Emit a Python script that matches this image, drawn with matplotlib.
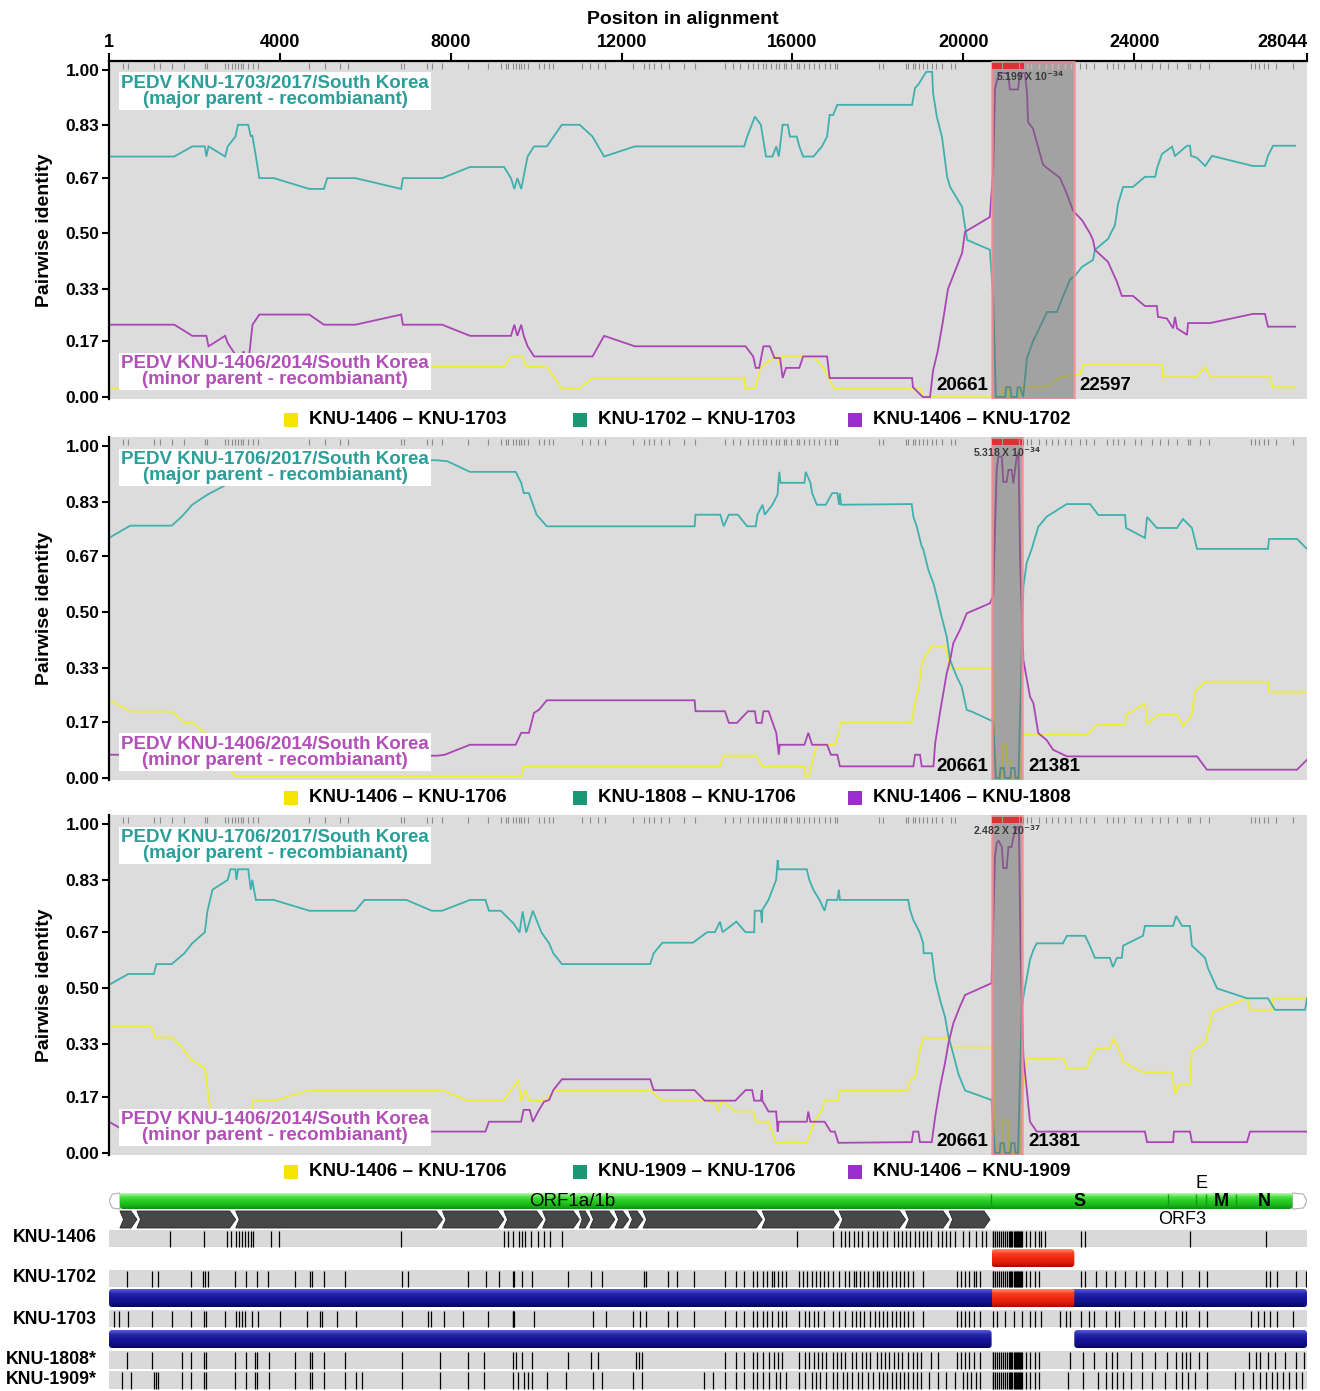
import numpy as np
import matplotlib
matplotlib.use('Agg')
import matplotlib.pyplot as plt
from matplotlib.patches import Rectangle, FancyBboxPatch, Polygon
from matplotlib.colors import LinearSegmentedColormap

plt.rcParams['font.family'] = ['Liberation Sans', 'DejaVu Sans']
plt.rcParams['font.weight'] = 'bold'
plt.rcParams['axes.labelweight'] = 'bold'

W, H = 1320, 1391
ALN_LEN = 28044
XTICKS = [1, 4000, 8000, 12000, 16000, 20000, 24000, 28044]
YTICKS = [0.0, 0.17, 0.33, 0.50, 0.67, 0.83, 1.00]
YLABELS = ['0.00', '0.17', '0.33', '0.50', '0.67', '0.83', '1.00']

# ---- pairwise identity traces (position, identity) ----
teal_1 = [(1, .735), (1530, .735), (1950, .766), (2245, .766), (2280, .735), (2330, .766), (2720, .735),
          (2780, .766), (2960, .796), (3020, .832), (3260, .832), (3320, .796), (3355, .80), (3440, .735),
          (3520, .669), (3860, .669), (4690, .636), (5030, .636), (5110, .669), (5770, .669), (6840, .636),
          (6880, .669), (7800, .669), (8450, .703), (9250, .703), (9410, .669), (9490, .636), (9560, .669),
          (9650, .636), (9800, .735), (9950, .766), (10250, .766), (10600, .832), (11020, .832), (11320, .796),
          (11590, .735), (12310, .766), (14870, .766), (14940, .796), (15120, .857), (15260, .832), (15380, .735),
          (15530, .735), (15620, .766), (15680, .735), (15770, .832), (15890, .832), (15940, .796), (16100, .796),
          (16160, .766), (16250, .735), (16490, .735), (16690, .766), (16810, .796), (16870, .862), (16950, .862),
          (17050, .893), (18800, .893), (18870, .945), (18940, .954), (19130, .994), (19270, .994), (19290, .93),
          (19380, .856), (19500, .795), (19620, .673), (19690, .642), (19970, .581), (20040, .52), (20090, .48),
          (20620, .45), (20700, .30), (20760, .0), (20980, .0), (21000, .03), (21100, .03), (21120, .0),
          (21250, .0), (21270, .03), (21330, .03), (21400, .0), (21490, .12), (21630, .17), (21960, .26),
          (22190, .26), (22310, .30), (22500, .36), (22610, .37), (22780, .398), (23035, .419), (23080, .45),
          (23385, .483), (23550, .526), (23620, .59), (23740, .642), (23970, .642), (24250, .673), (24490, .673),
          (24535, .70), (24650, .743), (24885, .765), (24955, .737), (25235, .768), (25305, .768), (25330, .737),
          (25470, .731), (25660, .706), (25820, .737), (26780, .706), (27060, .706), (27130, .737), (27250, .768),
          (27765, .768)]
purple_1 = [(1, .221), (1530, .221), (1950, .187), (2280, .187), (2330, .155), (2720, .187), (2780, .165),
            (2960, .129), (3050, .10), (3150, .14), (3260, .10), (3360, .221), (3520, .252), (4690, .252),
            (5030, .221), (5770, .221), (6840, .252), (6880, .221), (7800, .221), (8450, .187), (9410, .187),
            (9490, .221), (9560, .187), (9650, .221), (9710, .187), (9800, .155), (9950, .124), (11320, .124),
            (11590, .187), (12310, .155), (14900, .155), (15080, .124), (15140, .089), (15220, .089), (15320, .155),
            (15470, .155), (15580, .119), (15710, .119), (15770, .058), (15850, .089), (16160, .089), (16250, .124),
            (16810, .124), (16870, .058), (18800, .058), (18820, .03), (19050, .0), (19220, .0), (19290, .08),
            (19400, .14), (19520, .23), (19640, .33), (19850, .40), (19970, .44), (20040, .505), (20620, .55),
            (20700, .70), (20740, .94), (20790, .97), (20860, .99), (21045, .99), (21090, .94), (21280, .94),
            (21325, .99), (21440, .99), (21490, .93), (21515, .84), (21630, .82), (21865, .71), (21960, .70),
            (22260, .67), (22425, .62), (22565, .57), (22780, .54), (22965, .50), (23035, .48), (23080, .45),
            (23385, .413), (23595, .352), (23710, .309), (23970, .309), (24250, .278), (24530, .278), (24555, .245),
            (24765, .24), (24910, .21), (24955, .245), (25000, .21), (25235, .19), (25260, .226), (25775, .226),
            (26780, .254), (27060, .254), (27130, .215), (27765, .215)]
yellow_1 = [(1, .027), (3500, .027), (3560, .092), (9250, .092), (9410, .124), (9680, .124), (9770, .092),
            (10250, .092), (10600, .027), (11020, .027), (11320, .058), (14870, .058), (14900, .027), (15120, .027),
            (15260, .092), (15620, .124), (15710, .092), (15770, .124), (16490, .124), (16710, .092), (16980, .027),
            (18990, .027), (19060, .0), (20900, .0), (20920, .03), (21050, .03), (21070, .0), (21300, .0),
            (21330, .03), (21960, .03), (22260, .06), (22730, .07), (22800, .098), (24650, .098), (24660, .061),
            (25450, .061), (25660, .092), (25775, .061), (27180, .061), (27250, .03), (27765, .03)]

teal_2 = [(1, .723), (500, .76), (1470, .76), (1710, .788), (1950, .823), (2300, .853), (2700, .88), (3300, .92),
          (4200, .957), (7670, .957), (7920, .954), (8450, .922), (9520, .922), (9650, .889), (9710, .858),
          (9830, .858), (10010, .793), (10250, .758), (13710, .758), (13730, .793), (14310, .793), (14390, .758),
          (14510, .793), (14720, .793), (14940, .758), (15140, .758), (15180, .793), (15300, .823), (15350, .793),
          (15530, .823), (15650, .853), (15690, .922), (15720, .889), (16280, .889), (16310, .922), (16420, .889),
          (16460, .858), (16570, .823), (16780, .823), (16930, .858), (17050, .858), (17090, .823), (17110, .858),
          (17140, .823), (18790, .825), (18830, .787), (18910, .757), (19025, .697), (19060, .69), (19180, .627),
          (19300, .586), (19380, .546), (19490, .486), (19610, .426), (19690, .355), (19845, .305), (19960, .275),
          (20080, .205), (20195, .20), (20700, .17), (20760, .0), (20850, .0), (20870, .03), (20950, .03),
          (20970, .0), (21100, .0), (21120, .03), (21200, .03), (21220, .0), (21290, .0), (21405, .576),
          (21480, .647), (21600, .69), (21755, .757), (21950, .787), (22110, .80), (22420, .825), (22965, .825),
          (23160, .792), (23785, .792), (23810, .753), (24250, .723), (24300, .786), (24530, .753), (25000, .753),
          (25140, .78), (25350, .753), (25470, .69), (27130, .69), (27155, .72), (27810, .72), (28044, .69)]
purple_2 = [(1, .07), (7680, .067), (7860, .07), (8450, .10), (9520, .10), (9650, .136), (9830, .136), (9950, .196),
            (10070, .206), (10250, .234), (13710, .234), (13730, .201), (14420, .201), (14510, .166), (14700, .166),
            (14960, .201), (15120, .201), (15160, .166), (15280, .166), (15320, .201), (15440, .201), (15620, .136),
            (15680, .07), (15700, .10), (16280, .10), (16370, .136), (16460, .10), (16810, .10), (16900, .07),
            (17050, .07), (17110, .035), (18830, .035), (18870, .07), (18985, .07), (19025, .035), (19300, .035),
            (19340, .104), (19450, .195), (19610, .315), (19690, .355), (19765, .406), (19920, .446), (20080, .496),
            (20620, .526), (20700, .55), (20740, .75), (20780, .928), (20820, .968), (20900, .968), (20935, .892),
            (21015, .892), (21055, .928), (21130, .928), (21170, .887), (21210, .928), (21250, .968), (21290, .98),
            (21330, .647), (21405, .355), (21560, .245), (21640, .225), (21755, .135), (21950, .114), (22100, .085),
            (22425, .065), (25470, .065), (25700, .025), (27810, .025), (28044, .055)]
yellow_2 = [(1, .236), (500, .20), (1470, .20), (1770, .168), (1950, .168), (2300, .13), (2700, .05), (2960, .005),
            (9650, .005), (9710, .035), (14300, .035), (14390, .067), (15140, .067), (15300, .035), (16275, .035),
            (16300, .005), (16395, .005), (16455, .045), (16575, .10), (16990, .10), (17085, .136), (17135, .166),
            (18790, .166), (18830, .20), (18985, .295), (19025, .345), (19100, .365), (19260, .398), (19570, .398),
            (19690, .33), (20700, .33), (20760, .0), (20900, .0), (20920, .10), (20990, .10), (21010, .05),
            (21100, .05), (21130, .0), (21330, .0), (21366, .085), (21405, .13), (22890, .13), (23125, .160),
            (23785, .160), (23810, .19), (24250, .225), (24300, .163), (24555, .19), (25000, .19), (25140, .157),
            (25350, .19), (25420, .26), (25660, .29), (27130, .29), (27155, .26), (28044, .26)]

teal_3 = [(1, .511), (454, .544), (1051, .544), (1110, .574), (1469, .574), (1767, .607), (1946, .637), (2245, .671),
          (2304, .734), (2424, .80), (2782, .83), (2842, .862), (2961, .862), (2985, .83), (3021, .862), (3260, .862),
          (3319, .80), (3355, .83), (3439, .769), (3857, .769), (4692, .736), (5767, .736), (5982, .769), (6961, .769),
          (7558, .736), (7797, .736), (8454, .769), (8812, .769), (8895, .736), (9170, .736), (9468, .698),
          (9612, .67), (9683, .734), (9767, .67), (9922, .736), (10125, .67), (10304, .637), (10400, .607),
          (10603, .574), (12668, .574), (12752, .607), (12955, .639), (13669, .639), (14006, .671), (14185, .671),
          (14304, .703), (14364, .671), (14686, .703), (14901, .671), (15104, .671), (15116, .736), (15259, .736),
          (15283, .70), (15295, .739), (15438, .769), (15618, .83), (15653, .89), (15677, .862), (16334, .862),
          (16394, .83), (16489, .80), (16632, .769), (16752, .736), (16812, .769), (17050, .769), (17086, .80),
          (17110, .769), (18710, .769), (18750, .739), (18830, .708), (18985, .668), (19060, .637), (19070, .607),
          (19260, .607), (19340, .526), (19455, .465), (19570, .414), (19650, .354), (19765, .30), (19885, .24),
          (20040, .19), (20660, .161), (20740, .0), (20850, .0), (20870, .03), (20950, .03), (20970, .0),
          (21100, .0), (21120, .03), (21200, .03), (21220, .0), (21280, .0), (21366, .435), (21405, .475),
          (21560, .587), (21640, .617), (21717, .637), (22330, .637), (22425, .66), (22850, .66), (22960, .63),
          (23080, .593), (23430, .593), (23500, .565), (23595, .593), (23710, .593), (23740, .63), (24205, .66),
          (24250, .69), (24910, .69), (24980, .72), (25120, .69), (25305, .69), (25350, .63), (25657, .593),
          (25730, .56), (25940, .50), (26640, .47), (27130, .47), (27296, .435), (28000, .435), (28044, .47)]
purple_3 = [(1, .095), (400, .065), (8812, .065), (8895, .095), (9647, .095), (9707, .131), (9850, .131), (9922, .095),
            (10066, .131), (10185, .156), (10304, .161), (10400, .191), (10603, .224), (12668, .224), (12752, .191),
            (13707, .191), (13946, .159), (14662, .159), (14901, .191), (15056, .191), (15104, .159), (15259, .159),
            (15283, .191), (15295, .159), (15438, .126), (15618, .126), (15653, .065), (15677, .095), (16334, .095),
            (16370, .126), (16418, .095), (16752, .095), (16895, .065), (16991, .065), (17074, .031), (18790, .033),
            (18830, .065), (18947, .065), (18985, .033), (19260, .033), (19340, .11), (19455, .20), (19570, .273),
            (19650, .333), (19765, .394), (19920, .445), (20040, .48), (20660, .516), (20700, .70), (20740, .90),
            (20780, .94), (20820, .95), (20900, .93), (20935, .866), (21015, .866), (21055, .93), (21130, .93),
            (21170, .96), (21250, .99), (21300, .99), (21340, .60), (21405, .293), (21560, .095), (21717, .065),
            (24250, .065), (24300, .033), (24910, .033), (24930, .065), (25305, .065), (25350, .033), (26640, .033),
            (26710, .065), (28044, .065)]
yellow_3 = [(1, .384), (991, .384), (1087, .351), (1469, .351), (1707, .323), (1887, .288), (2245, .257),
            (2364, .141), (2500, .10), (3300, .10), (3379, .161), (3857, .159), (4692, .191), (7797, .191),
            (8394, .159), (9230, .159), (9409, .191), (9588, .222), (9647, .159), (9743, .191), (9850, .159),
            (10245, .159), (10424, .191), (12668, .191), (12955, .159), (13946, .159), (14185, .151), (14268, .126),
            (14340, .159), (14424, .151), (14662, .126), (15080, .126), (15140, .095), (15438, .095), (15618, .031),
            (16334, .031), (16513, .095), (16692, .131), (16752, .159), (17050, .159), (17110, .191), (18710, .191),
            (18750, .222), (18870, .23), (18950, .283), (18985, .313), (19063, .35), (19610, .35), (19690, .321),
            (20700, .32), (20760, .0), (20900, .0), (20920, .10), (21050, .10), (21070, .0), (21330, .0),
            (21400, .2), (21483, .288), (22341, .288), (22420, .257), (22888, .257), (22965, .288), (23122, .318),
            (23433, .318), (23511, .349), (23628, .318), (23740, .277), (24205, .245), (24885, .245), (24955, .18),
            (25070, .21), (25305, .21), (25350, .31), (25660, .335), (25730, .37), (25845, .43), (26640, .47),
            (26710, .435), (27225, .435), (27250, .47), (28044, .47)]

# recombination breakpoints and p-values
breaks = [(20661, 22597), (20661, 21381), (20661, 21381)]
pvalues = ['5.199', '5.318', '2.482']
pexps = ['-34', '-34', '-37']
major_labels = ['PEDV KNU-1703/2017/South Korea', 'PEDV KNU-1706/2017/South Korea', 'PEDV KNU-1706/2017/South Korea']
minor_label = 'PEDV KNU-1406/2014/South Korea'
legend_names = [['KNU-1406 \u2013 KNU-1703', 'KNU-1702 \u2013 KNU-1703', 'KNU-1406 \u2013 KNU-1702'],
                ['KNU-1406 \u2013 KNU-1706', 'KNU-1808 \u2013 KNU-1706', 'KNU-1406 \u2013 KNU-1808'],
                ['KNU-1406 \u2013 KNU-1706', 'KNU-1909 \u2013 KNU-1706', 'KNU-1406 \u2013 KNU-1909']]

# informative sites (top strip)
info_sites = [334, 454, 1051, 1206, 1469, 1767, 2245, 2304, 2722, 2782, 2878, 2961, 3021, 3081, 3140, 3260, 3379,
              3498, 4692, 5051, 5409, 5588, 6842, 6901, 7439, 7558, 7797, 8394, 8871, 9170, 9290, 9349, 9468, 9528,
              9588, 9647, 9707, 9803, 10066, 10185, 10304, 10400, 11080, 11259, 11438, 11617, 12274, 12513, 12633,
              12752, 12931, 13110, 13469, 13707, 14424, 14603, 14782, 14961, 15080, 15200, 15319, 15379, 15498,
              15618, 15677, 15797, 15857, 15976, 16095, 16155, 16274, 16394, 16513, 16632, 16752, 16871, 16991,
              17050, 18020, 18119, 18663, 18713, 18812, 18861, 18960, 19059, 19158, 19257, 19356, 19505, 19703,
              19802, 20693, 20740, 20792, 20840, 20891, 20940, 20990, 21040, 21089, 21140, 21188, 21240, 21287,
              21340, 21386, 21485, 21584, 21782, 21930, 22079, 22227, 22376, 22524, 22722, 22871, 23069, 23366,
              23514, 23613, 23762, 24009, 24158, 24405, 24603, 24801, 24999, 25247, 25296, 25544, 25742, 26732,
              26831, 26930, 27029, 27128, 27326, 27722]

# ---- genome map ----
gene_names = ['ORF1a/1b', 'S', 'ORF3', 'E', 'M', 'N']
gene_start = [257, 20638, 24790, 25446, 25685, 26377]
gene_end = [20638, 24790, 25446, 25685, 26377, 27702]
nsp_start = [257, 655, 2967, 7806, 9246, 10152, 11010, 11259, 11844, 12168, 12504, 15291, 17094, 18648, 19665]
nsp_end = [655, 2966, 7805, 9245, 10151, 11009, 11258, 11843, 12167, 12503, 15290, 17093, 18647, 19664, 20624]

hh_block = [20683, 20700, 20732, 20781, 20830, 20880, 20920, 20978, 21030, 21077, 21100, 21126, 21150, 21176,
            21200, 21225, 21250, 21274, 21300, 21323, 21350, 21372]
sites_1406 = [1438, 2227, 2769, 2847, 2966, 3035, 3113, 3192, 3261, 3330, 3380, 3803, 3980, 6828, 9242, 9350,
              9469, 9587, 9666, 9745, 9883, 10040, 10178, 10326, 10601, 16101, 16939, 17136, 17234, 17333, 17431,
              17530, 17628, 17776, 17875, 17973, 18121, 18220, 18367, 18466, 18565, 18663, 18762, 18860, 18959,
              19057, 19156, 19254, 19402, 19501, 19599, 19698, 19796, 19993, 20141, 20289, 20437, 20535] + hh_block + \
             [21471, 21569, 21668, 21767, 21816, 21914, 22752, 22851, 25294, 27087]
sites_1702 = [424, 1015, 1142, 1931, 2197, 2246, 2325, 2946, 3212, 3458, 3734, 4345, 4710, 4759, 5035, 5527, 6858,
              7005, 8405, 8828, 9124, 9449, 9488, 9666, 9912, 10750, 11291, 11538, 12523, 12572, 13096, 13293, 13687,
              14426, 14673, 14870, 15067, 15165, 15313, 15412, 15510, 15559, 15658, 15756, 15855, 16150, 16249,
              16348, 16446, 16545, 16643, 16742, 16840, 16939, 17086, 17234, 17333, 17431, 17481, 17579, 17678,
              17776, 17875, 17973, 18023, 18121, 18220, 18318, 18417, 18515, 18614, 18712, 18811, 19057, 19845,
              19944, 20042, 20141, 20240, 20289, 20387] + hh_block + \
             [21471, 21569, 21668, 21767, 22752, 22851, 23097, 23343, 23540, 23786, 24033, 24230, 24476, 24772,
              25117, 25511, 25708, 27087, 27186, 27333, 27777, 28023]
sites_1703 = [108, 236, 453, 1015, 1468, 1931, 2227, 2276, 2719, 2966, 3045, 3113, 3192, 3360, 3478, 4000, 4641,
              4936, 4985, 5330, 5774, 6858, 7478, 7547, 7843, 8286, 8877, 9449, 9469, 9488, 9942, 11341, 11636,
              12277, 12425, 12572, 13096, 13293, 13687, 14426, 14673, 14870, 15067, 15165, 15313, 15412, 15510,
              15658, 15756, 15855, 16150, 16298, 16397, 16495, 16594, 16742, 16939, 17086, 17234, 17382, 17481,
              17579, 17678, 17826, 17924, 18023, 18121, 18220, 18318, 18417, 18515, 18614, 18712, 18811, 19057,
              19845, 19944, 20042, 20141, 20240, 20387, 20683, 20781, 20978, 21176, 21372, 21569, 21668, 21816,
              22259, 22407, 22506, 22752, 22949, 23048, 23343, 23540, 23639, 23984, 24230, 24476, 24723, 24969,
              25117, 25216, 25511, 25708, 26742, 26890, 27038, 27186, 27333, 27727]
sites_1808 = [424, 1015, 1704, 1931, 2227, 2276, 2946, 3212, 3409, 3458, 3754, 4345, 4710, 4759, 5035, 5527, 6858,
              7744, 8405, 8779, 9449, 9518, 9666, 9912, 10750, 11291, 11439, 12326, 12405, 12474, 14426, 14673,
              14870, 15067, 15165, 15313, 15461, 15559, 15658, 15756, 16150, 16298, 16397, 16495, 16594, 16693,
              16791, 16939, 17037, 17136, 17234, 17382, 17481, 17628, 17727, 17826, 17973, 18072, 18170, 18269,
              18367, 18466, 18565, 18712, 18811, 18909, 19008, 19254, 19402, 19845, 19944, 20042, 20141, 20240,
              20387] + hh_block + \
             [21471, 21569, 21668, 21767, 22506, 22802, 23048, 23343, 23491, 23590, 23934, 24181, 24476, 24772,
              24969, 25117, 25216, 25314, 25511, 25708, 26693, 26841, 26940, 27137, 27284, 27531, 27777, 27974]
sites_1909 = [305, 522, 1044, 1094, 1142, 1704, 1931, 2227, 2276, 2946, 3212, 3409, 3458, 3754, 4345, 4710, 4759,
              5035, 5527, 5774, 5922, 6858, 7744, 8405, 8779, 9449, 9567, 9715, 9814, 9912, 10257, 10700, 11341,
              11538, 12277, 12474, 13934, 14131, 14426, 14673, 14870, 15067, 15165, 15313, 15461, 15609, 15707,
              15855, 16150, 16298, 16446, 16545, 16643, 16791, 16939, 17037, 17185, 17284, 17382, 17530, 17628,
              17776, 17875, 18023, 18121, 18220, 18318, 18417, 18515, 18614, 18712, 18811, 18909, 19008, 19205,
              19402, 19599, 19796, 19993, 20092, 20190, 20289, 20387] + hh_block + \
             [21471, 21569, 21668, 21767, 22456, 22802, 23146, 23343, 23491, 23590, 23737, 23934, 24181, 24427,
              24723, 24969, 25117, 25264, 25412, 25708, 26348, 26545, 26791, 26939, 27087, 27235, 27333, 27481,
              27629, 27777, 27925]
strain_names = ['KNU-1406', 'KNU-1702', 'KNU-1703', 'KNU-1808*', 'KNU-1909*']
strain_sites = [sites_1406, sites_1702, sites_1703, sites_1808, sites_1909]

TEAL, PURPLE, YELLOW = '#3fb0ad', '#aa45b5', '#eeee3a'
TEAL_TXT, PURPLE_TXT = '#2a9e98', '#b350b8'
LEG_COLS = ['#f5e400', '#1b9677', '#9a2fca']

fig = plt.figure(figsize=(W / 100, H / 100), dpi=100)


def px_axes(l, t, r, b):
    return fig.add_axes([l / W, 1 - b / H, (r - l) / W, (b - t) / H])


YLIM = (-0.007, 1.027)
boxes = [(109, 61, 1307, 399.3), (109, 437, 1307, 780.3), (109, 815, 1307, 1155.3)]
traces = [(teal_1, purple_1, yellow_1), (teal_2, purple_2, yellow_2), (teal_3, purple_3, yellow_3)]
legend_y = [420, 798, 1172]

for i in range(3):
    ax = px_axes(*boxes[i])
    ax.set_facecolor('#dcdcdc')
    ax.set_xlim(1, ALN_LEN)
    ax.set_ylim(*YLIM)
    for s in ['right', 'bottom', 'top']:
        ax.spines[s].set_visible(False)
    ax.spines['left'].set_linewidth(1.6)
    ax.set_yticks(YTICKS)
    ax.set_yticklabels(YLABELS)
    ax.tick_params(axis='y', direction='out', length=5, width=1.5, labelsize=12.5, pad=2)
    ax.set_ylabel('Pairwise identity', fontsize=14, labelpad=9)
    if i == 0:
        ax.spines['top'].set_visible(True)
        ax.spines['top'].set_linewidth(1.6)
        ax.xaxis.tick_top()
        ax.set_xticks(XTICKS)
        ax.set_xticklabels([str(v) for v in XTICKS])
        ax.tick_params(axis='x', direction='out', length=6, width=1.5, labelsize=13, pad=1)
        ax.get_xticklabels()[-1].set_horizontalalignment('right')
    else:
        ax.set_xticks([])

    t, p, y = traces[i]
    for data, col in ((y, YELLOW), (t, TEAL), (p, PURPLE)):
        xs, vs = zip(*data)
        ax.plot(xs, vs, color=col, lw=1.3, zorder=2, solid_joinstyle='miter')

    s0, s1 = breaks[i]
    ax.add_patch(Rectangle((s0, YLIM[0]), s1 - s0, YLIM[1] - YLIM[0], fc='#6a6a6a', ec='none',
                           alpha=0.5, zorder=4))
    ax.add_patch(Rectangle((s0, YLIM[0]), s1 - s0, YLIM[1] - YLIM[0], fc='none', ec='#f28b93',
                           lw=1.8, alpha=0.85, zorder=5))

    gray = [v for v in info_sites if not (s0 <= v <= s1)]
    red = [v for v in info_sites if s0 <= v <= s1 and v < 21400]
    pink = [v for v in info_sites if s0 <= v <= s1 and v >= 21400]
    ax.vlines(gray, 1.004, 1.021, color='#8a8a8a', lw=0.8, zorder=6)
    ax.vlines(red, 1.004, 1.021, color='#e02020', lw=1.2, zorder=6)
    ax.vlines(pink, 1.004, 1.021, color='#f0a0a8', lw=1.0, zorder=6)

    ax.text((s0 + s1) / 2 if i else 21560, 0.982, pvalues[i] + ' X 10$^{' + pexps[i] + '}$',
            fontsize=7.5, color='#3a3a3a', ha='center', va='center', zorder=7)
    ax.text(s0 - 90, 0.034, str(s0), fontsize=13.5, ha='right', va='center', zorder=7)
    ax.text(s1 + 130, 0.034, str(s1), fontsize=13.5, ha='left', va='center', zorder=7)

    ax.text(3886, 0.935, major_labels[i] + '\n(major parent - recombianant)', color=TEAL_TXT, fontsize=13.5,
            ha='center', va='center', linespacing=0.92, zorder=8,
            bbox=dict(boxstyle='square,pad=0.12', fc='white', ec='none'))
    ax.text(3886, 0.078, minor_label + '\n(minor parent - recombianant)', color=PURPLE_TXT, fontsize=13.5,
            ha='center', va='center', linespacing=0.92, zorder=8,
            bbox=dict(boxstyle='square,pad=0.12', fc='white', ec='none'))

    ly = legend_y[i]
    for sx, tx, col, name in zip([284, 573, 848], [309, 598, 873], LEG_COLS, legend_names[i]):
        fig.add_artist(Rectangle((sx / W, 1 - (ly + 7) / H), 14 / W, 14 / H, transform=fig.transFigure,
                                 fc=col, ec='none'))
        fig.text(tx / W, 1 - ly / H, name, fontsize=13.5, ha='left', va='center')

fig.text(683 / W, 1 - 20 / H, 'Positon in alignment', fontsize=14, ha='center', va='center')

# ---- genome map ----
g = px_axes(109, 1178, 1307, 1391)
g.set_axis_off()
XU = ALN_LEN / 1198.0


def grad_bar(x0, x1, y0, y1, cols, r=3, z=2):
    patch = FancyBboxPatch((x0, y0), x1 - x0, y1 - y0, boxstyle='round,pad=0,rounding_size=%f' % (r * XU),
                           mutation_aspect=1 / XU, fc='none', ec='none')
    g.add_patch(patch)
    cmap = LinearSegmentedColormap.from_list('g', cols)
    im = g.imshow(np.linspace(0, 1, 40)[:, None], extent=(x0, x1, y1, y0), aspect='auto', cmap=cmap,
                  origin='upper', zorder=z, interpolation='bilinear')
    im.set_clip_path(patch)


GREEN = ['#b4f8aa', '#48e040', '#26cc22', '#1cb81a', '#109010']
BLUE = ['#5a5ad8', '#2424b0', '#16169a', '#10108a', '#060660']
RED = ['#ff9070', '#ff3a1e', '#f22810', '#e01c08', '#a80c00']

# gene bar
g.add_patch(Polygon([(257, 1193), (257, 1209), (80, 1208), (1, 1201), (80, 1194)], closed=True,
                    fc='white', ec='#b0b0b0', lw=0.8, zorder=2))
g.add_patch(Polygon([(27702, 1193), (27702, 1209), (27960, 1208), (28044, 1201), (27960, 1194)], closed=True,
                    fc='white', ec='#b0b0b0', lw=0.8, zorder=2))
grad_bar(gene_start[0], gene_end[-1], 1193, 1209, GREEN, r=3)
for b in gene_start[1:]:
    g.vlines(b, 1194, 1208, color='#159a15', lw=1.0, zorder=3)
for name, s, e in zip(gene_names, gene_start, gene_end):
    c = (s + e) / 2
    if name == 'E':
        g.text(c, 1183, name, fontsize=13, fontweight='normal', ha='center', va='center')
    elif name == 'ORF3':
        g.text(c, 1220, name, fontsize=13, fontweight='normal', ha='center', va='center')
    elif name == 'ORF1a/1b':
        g.text(10840, 1201, name, fontsize=13.5, fontweight='normal', ha='center', va='center', zorder=4)
    else:
        g.text(c, 1201, name, fontsize=13, ha='center', va='center', zorder=4)

# nsp arrows
hd = 6 * XU
for s, e in zip(nsp_start, nsp_end):
    head = min(hd, (e - s) * 0.45)
    pts = [(s, 1211), (e - head, 1211), (e, 1219.5), (e - head, 1228), (s, 1228), (s + head * 0.6, 1219.5)]
    g.add_patch(Polygon(pts, closed=True, fc='#474747', ec='#262626', lw=0.6, zorder=2))

# strain tracks
track_rows = [(1230, 1247), (1270, 1287), (1310, 1327), (1351, 1369), (1371, 1389)]
label_y = [1238, 1278, 1319, 1360, 1380]
for (y0, y1), sites, name, ly in zip(track_rows, strain_sites, strain_names, label_y):
    g.add_patch(Rectangle((1, y0), ALN_LEN - 1, y1 - y0, fc='#d9d9d9', ec='none', zorder=1))
    g.vlines(sites, y0 + 0.5, y1 - 0.5, color='black', lw=0.9, zorder=2)
    fig.text(97 / W, 1 - ly / H, name, fontsize=12.8, ha='right', va='center')

# parental segments
b0, b1 = breaks[0]
grad_bar(b0, b1, 1249, 1267, RED, r=3)
grad_bar(1, ALN_LEN, 1289, 1307, BLUE, r=3)
grad_bar(b0, b1, 1289, 1307, RED, r=2, z=3)
grad_bar(1, b0, 1330, 1348, BLUE, r=3)
grad_bar(b1, ALN_LEN, 1330, 1348, BLUE, r=3)

g.set_xlim(1, ALN_LEN)
g.set_ylim(1391, 1178)

fig.savefig('out.png', dpi=100)
